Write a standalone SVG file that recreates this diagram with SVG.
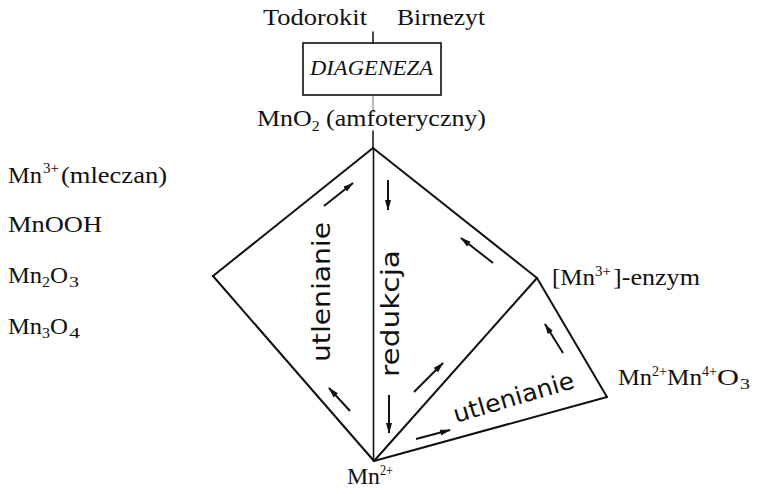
<svg xmlns="http://www.w3.org/2000/svg" width="757" height="494" viewBox="0 0 757 494">
<style>
.t{font-family:"Liberation Serif","Times New Roman",serif;font-size:23px;fill:#111}
.s{font-family:"Liberation Serif","Times New Roman",serif;font-size:14px;fill:#111}
.i{font-family:"Liberation Serif","Times New Roman",serif;font-size:20px;font-style:italic;fill:#111}
.r{font-family:"DejaVu Sans","Liberation Sans",sans-serif;font-size:24px;fill:#111}
.e{stroke:#111;stroke-width:2;fill:none;stroke-linecap:round}
.a{stroke:#111;stroke-width:2;fill:none;marker-end:url(#ah)}
</style>
<defs>
<marker id="ah" markerUnits="userSpaceOnUse" markerWidth="12" markerHeight="8" refX="10" refY="3" orient="auto">
<path d="M0,0 L11,3 L0,6 Z" fill="#111"/>
</marker>
</defs>
<rect width="757" height="494" fill="#fff"/>

<g id="connectors">
<line class="e" x1="373" y1="32" x2="373" y2="43" style="stroke-width:1.5"/>
<line class="e" x1="373" y1="95" x2="373" y2="112" style="stroke-width:1;stroke:#777"/>
<line class="e" x1="373" y1="131" x2="373" y2="148" style="stroke-width:1.5"/>
<line class="e" x1="373" y1="148" x2="213" y2="276"/>
<line class="e" x1="213" y1="276" x2="374" y2="461"/>
<line class="e" x1="373" y1="148" x2="537" y2="278"/>
<line class="e" x1="537" y1="278" x2="374" y2="461"/>
<line class="e" x1="537" y1="278" x2="607" y2="397"/>
<line class="e" x1="607" y1="397" x2="374" y2="461"/>
<line class="e" x1="373.5" y1="148" x2="373.5" y2="461" style="stroke-width:1.6"/>
<line class="a" x1="324" y1="206" x2="353" y2="183"/>
<line class="a" x1="388" y1="180" x2="388" y2="210"/>
<line class="a" x1="493" y1="263" x2="461" y2="238"/>
<line class="a" x1="350" y1="411" x2="329" y2="388"/>
<line class="a" x1="389" y1="395" x2="389" y2="433"/>
<line class="a" x1="414" y1="392" x2="443" y2="363"/>
<line class="a" x1="416" y1="439" x2="450" y2="430"/>
<line class="a" x1="563" y1="353" x2="545" y2="324"/>
</g>

<g id="todorokit"><text class="t" x="263" y="25" textLength="104" lengthAdjust="spacingAndGlyphs">Todorokit</text></g>
<g id="birnezyt"><text class="t" x="397" y="25" textLength="88" lengthAdjust="spacingAndGlyphs">Birnezyt</text></g>
<g id="diageneza">
<rect x="303" y="43" width="138" height="52" fill="none" stroke="#111" stroke-width="1.6"/>
<text class="i" x="310" y="75" textLength="123" lengthAdjust="spacingAndGlyphs">DIAGENEZA</text>
</g>
<g id="mno2">
<text class="t" x="257" y="126" textLength="229" lengthAdjust="spacingAndGlyphs">MnO<tspan class="s" dy="5">2</tspan><tspan dy="-5"> (amfoteryczny)</tspan></text>
</g>

<g id="mn3-mleczan">
<text class="t" x="8" y="183" textLength="34" lengthAdjust="spacingAndGlyphs">Mn</text>
<text class="s" x="43" y="173" textLength="16" lengthAdjust="spacingAndGlyphs">3+</text>
<text class="t" x="61" y="183" textLength="106" lengthAdjust="spacingAndGlyphs">(mleczan)</text>
</g>
<g id="mnooh"><text class="t" x="8" y="232" textLength="94" lengthAdjust="spacingAndGlyphs">MnOOH</text></g>
<g id="mn2o3">
<text class="t" x="8" y="283" textLength="34" lengthAdjust="spacingAndGlyphs">Mn</text>
<text class="s" x="42" y="287" textLength="8" lengthAdjust="spacingAndGlyphs">2</text>
<text class="t" x="50" y="283" textLength="18" lengthAdjust="spacingAndGlyphs">O</text>
<text class="s" x="69" y="287" textLength="10" lengthAdjust="spacingAndGlyphs">3</text>
</g>
<g id="mn3o4">
<text class="t" x="8" y="334" textLength="34" lengthAdjust="spacingAndGlyphs">Mn</text>
<text class="s" x="42" y="338" textLength="8" lengthAdjust="spacingAndGlyphs">3</text>
<text class="t" x="50" y="334" textLength="18" lengthAdjust="spacingAndGlyphs">O</text>
<text class="s" x="69" y="338" textLength="11" lengthAdjust="spacingAndGlyphs">4</text>
</g>

<g id="mn3-enzym">
<text class="t" x="552" y="285" textLength="43" lengthAdjust="spacingAndGlyphs">[Mn</text>
<text class="s" x="595" y="276" textLength="16" lengthAdjust="spacingAndGlyphs">3+</text>
<text class="t" x="613" y="285" textLength="87" lengthAdjust="spacingAndGlyphs">]-enzym</text>
</g>
<g id="mn2mn4o3">
<text class="t" x="618" y="385" textLength="34" lengthAdjust="spacingAndGlyphs">Mn</text>
<text class="s" x="652" y="376" textLength="15" lengthAdjust="spacingAndGlyphs">2+</text>
<text class="t" x="667" y="385" textLength="35" lengthAdjust="spacingAndGlyphs">Mn</text>
<text class="s" x="702" y="376" textLength="15" lengthAdjust="spacingAndGlyphs">4+</text>
<text class="t" x="717" y="385" textLength="22" lengthAdjust="spacingAndGlyphs">O</text>
<text class="s" x="740" y="389" textLength="10" lengthAdjust="spacingAndGlyphs">3</text>
</g>
<g id="mn2">
<text class="t" x="347" y="484" textLength="33" lengthAdjust="spacingAndGlyphs">Mn</text>
<text class="s" x="380" y="475" textLength="13" lengthAdjust="spacingAndGlyphs">2+</text>
</g>

<g id="labels-process">
<text class="r" transform="translate(330,362) rotate(-90)" textLength="140" lengthAdjust="spacingAndGlyphs">utlenianie</text>
<text class="r" transform="translate(399,377) rotate(-90)" textLength="127" lengthAdjust="spacingAndGlyphs">redukcja</text>
<text class="r" transform="translate(456,423) rotate(-16.5)" textLength="125" lengthAdjust="spacingAndGlyphs">utlenianie</text>
</g>
</svg>
